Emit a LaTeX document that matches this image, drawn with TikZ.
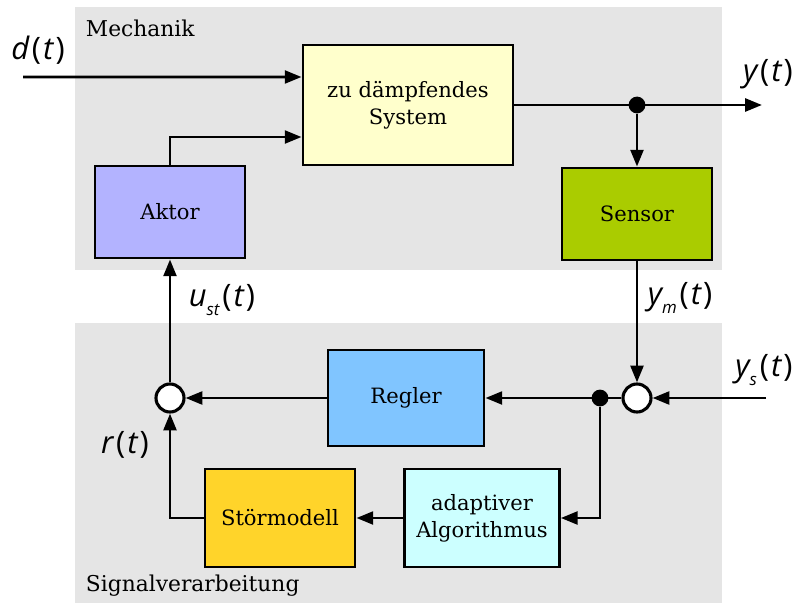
\documentclass[tikz,border=0pt]{standalone}
\usepackage{fontspec}
\setmainfont{DejaVu Serif}
\newfontfamily\sigfont{Open Sans}
\usetikzlibrary{arrows.meta}
\newcommand{\lowidx}[1]{\raisebox{-0.5ex}{\fontsize{12}{13}\selectfont #1}}
\newcommand{\signame}[2]{{\sigfont\fontsize{22}{26}\selectfont\itshape #1\lowidx{#2}\kern2pt\upshape(\kern1.5pt\itshape t\kern1.5pt\upshape)}}

\begin{document}
\begin{tikzpicture}[x=0.025cm, y=-0.025cm,
		box/.style={draw, line width=2pt, align=center, minimum width=3.75cm, minimum height=2.3cm, font=\fontsize{15}{19}\selectfont},
		sig/.style={line width=2.1pt, -{Triangle[length=0.42cm, width=0.32cm]}},
		sum/.style={circle, draw, fill=white, line width=2.2pt, minimum size=0.7cm, inner sep=0pt},
		dot/.style={circle, fill, minimum size=0.42cm, inner sep=0pt},
		area/.style={fill=black!10}]
	\useasboundingbox (0,0) rectangle (798,605);
	\fill[area] (75,7) rectangle (722,270);
	\fill[area] (75,323) rectangle (722,603);
	\node[anchor=west, font=\fontsize{15.5}{19}\selectfont] (mech) at (81,28) {Mechanik};
	\node[anchor=west, font=\fontsize{15.5}{19}\selectfont] (sv) at (81,586) {Signalverarbeitung};

	\node[box, fill={rgb,255:red,255;green,255;blue,204}, minimum width=5.25cm, minimum height=3cm] (sys) at (408,105) {zu dämpfendes\\System};
	\node[box, fill={rgb,255:red,179;green,179;blue,255}] (aktor) at (170,212) {Aktor};
	\node[box, fill={rgb,255:red,170;green,204;blue,0}] (sensor) at (637,214) {Sensor};
	\node[box, fill={rgb,255:red,128;green,197;blue,255}, minimum width=3.9cm, minimum height=2.4cm] (regler) at (406,398) {Regler};
	\node[box, fill={rgb,255:red,204;green,255;blue,255}, minimum width=3.87cm, minimum height=2.45cm] (algo) at (482,518) {adaptiver\\Algorithmus};
	\node[box, fill={rgb,255:red,255;green,212;blue,42}, minimum height=2.45cm] (stoer) at (280,518) {Störmodell};

	\node[sum] (sumL) at (170,398) {};
	\node[sum] (sumR) at (637,398) {};
	\node[dot] (brY) at (637,105) {};
	\node[dot] (brU) at (600,398) {};

	\coordinate (dIn) at (23,77);
	\coordinate (yOut) at (762,105);
	\coordinate (ysIn) at (766,398);

	\draw[sig] (dIn) -- ([yshift=0.7cm]sys.west);
	\draw[sig] (aktor.north) |- ([yshift=-0.8cm]sys.west);
	\draw[sig] (sys.east) -- (yOut);
	\draw[sig] (brY) -- (sensor);
	\draw[sig] (sensor) -- (sumR);
	\draw[sig] (ysIn) -- (sumR);
	\draw[sig] (sumR) -- (regler);
	\draw[sig] (brU) |- (algo);
	\draw[sig] (algo) -- (stoer);
	\draw[sig] (stoer) -| (sumL);
	\draw[sig] (regler) -- (sumL);
	\draw[sig] (sumL) -- (aktor);

	\node (dlab) at (38,52) {\signame{d}{}};
	\node (ylab) at (768,75) {\signame{y}{}};
	\node (ulab) at (222,300) {\signame{u}{st}};
	\node (ymlab) at (680,298) {\signame{y}{m}};
	\node (yslab) at (764,370) {\signame{y}{s}};
	\node (rlab) at (125,447) {\signame{r}{}};
\end{tikzpicture}
\end{document}
